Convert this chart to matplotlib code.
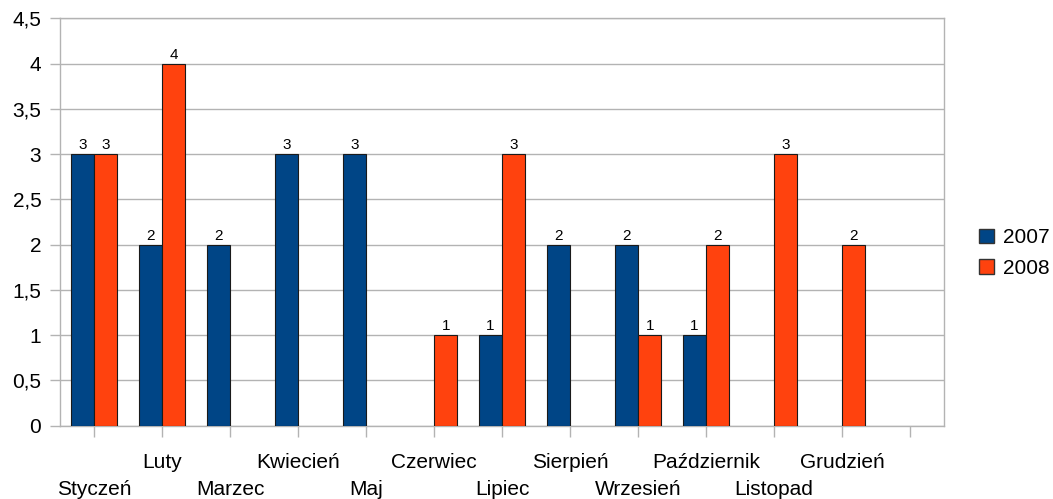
import matplotlib
matplotlib.use("Agg")
import matplotlib.pyplot as plt
from matplotlib.patches import Patch
import numpy as np

plt.rcParams['font.family'] = ['Liberation Sans', 'DejaVu Sans']

# dane
months = ['Styczeń', 'Luty', 'Marzec', 'Kwiecień', 'Maj', 'Czerwiec', 'Lipiec',
          'Sierpień', 'Wrzesień', 'Październik', 'Listopad', 'Grudzień']
v2007 = [3, 2, 2, 3, 3, 0, 1, 2, 2, 1, 0, 0]
v2008 = [3, 4, 0, 0, 0, 1, 3, 0, 1, 2, 3, 2]
series = ['2007', '2008']
yticks = [0, 0.5, 1, 1.5, 2, 2.5, 3, 3.5, 4, 4.5]

blue = '#004586'
orange = '#ff420e'
grey = '#b3b3b3'

W, H = 1053, 499
fig = plt.figure(figsize=(W / 100, H / 100), dpi=100)
# plot area in pixels: left 60, right 944, top 18, bottom 426
ax = fig.add_axes([60 / W, (H - 425.7) / H, (944 - 60) / W, (425.7 - 18.3) / H])

x = np.arange(len(months))
bw = 0.345
for vals, off, col in [(v2007, -bw / 2, blue), (v2008, bw / 2, orange)]:
    for xi, v in zip(x, vals):
        if v == 0:
            continue
        ax.bar(xi + off, v, width=bw, color=col, edgecolor='#1a1a1a', linewidth=0.8, zorder=3)
        ax.text(xi + off, v + 0.02, str(v), ha='center', va='bottom', fontsize=11, zorder=4)

ax.set_xlim(-0.5, len(months) + 0.5)
ax.set_ylim(0, 4.5)

ax.set_yticks(yticks)
ax.set_yticklabels([('%g' % t).replace('.', ',') for t in yticks], fontsize=15)
ax.set_xticks(np.arange(len(months) + 1))
ax.set_xticklabels([])
ax.tick_params(axis='y', length=7.5, width=1, color=grey, pad=6)
ax.tick_params(axis='x', length=8, width=1, color=grey)

ax.grid(axis='y', color=grey, linewidth=1, zorder=0)
for s in ax.spines.values():
    s.set_color(grey)
    s.set_linewidth(1)

# staggered category labels
trans = ax.get_xaxis_transform()
for i, m in enumerate(months):
    y = -0.1038 if i % 2 == 1 else -0.170
    ax.text(i, y, m, transform=trans, ha='center', va='baseline', fontsize=15)

handles = [Patch(facecolor=blue, edgecolor='#333333'), Patch(facecolor=orange, edgecolor='#333333')]
fig.legend(handles, series, loc='center left', bbox_to_anchor=(979 / W, 1 - 253 / H),
           frameon=False, fontsize=15, handlelength=0.7, handleheight=0.7,
           handletextpad=0.45, labelspacing=0.55, borderpad=0, borderaxespad=0)

fig.savefig('out.png', dpi=100)
